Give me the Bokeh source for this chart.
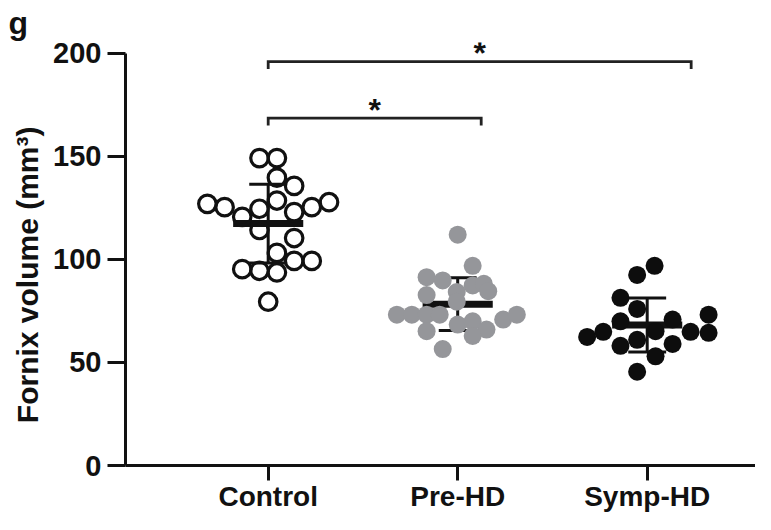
import numpy as np
from bokeh.plotting import figure
from bokeh.models import Range1d, FixedTicker, Title
from bokeh.embed import file_html
from bokeh.resources import INLINE
from bokeh.core.properties import value

# ---------------- data ----------------
groups = ["Control", "Pre-HD", "Symp-HD"]
group_x = [1, 2, 3]

control_vals = [149.2, 149.2, 139.7, 135.7, 127.0, 125.4, 120.7, 124.6, 128.6, 123.0,
                125.4, 127.8, 114.3, 110.4, 103.2, 99.3, 99.3, 95.3, 94.5, 93.7, 79.5]
control_swarm = [-0.046, 0.046, 0.046, 0.137, -0.321, -0.230, -0.137, -0.046, 0.046, 0.137,
                 0.230, 0.321, -0.046, 0.137, 0.046, 0.137, 0.230, -0.137, -0.046, 0.046, 0.0]

prehd_vals = [112.0, 96.9, 91.4, 89.8, 87.4, 88.2, 84.6, 82.7, 84.2, 79.5, 73.2,
              73.2, 73.2, 73.2, 70.8, 73.2, 68.4, 70.0, 66.0, 65.2, 62.9, 56.5]
prehd_swarm = [0.0, 0.079, -0.164, -0.079, 0.079, 0.138, 0.161, -0.164, -0.005, -0.005, -0.321,
               -0.242, -0.164, -0.095, 0.240, 0.312, 0.0, 0.079, 0.152, -0.164, 0.079, -0.079]

symphd_vals = [96.9, 92.5, 81.4, 76.0, 70.0, 70.8, 73.2, 62.4, 64.9, 65.2, 64.9,
               64.4, 61.0, 58.1, 59.0, 53.0, 45.5]
symphd_swarm = [0.039, -0.053, -0.141, -0.053, -0.141, 0.134, 0.324, -0.317, -0.232, 0.044, 0.229,
                0.324, -0.053, -0.141, 0.134, 0.044, -0.053]

y_ticks = [0, 50, 100, 150, 200]

# significance brackets: (start x, end x, height)
bracket_start = [1.0, 1.0]
bracket_end = [2.124, 3.232]
bracket_y = [168.6, 196.0]
bracket_label = ["*", "*"]

# ---------------- figure ----------------
FONT = "Liberation Sans"
INK = "#111111"
p = figure(width=755, height=514, output_backend="svg", toolbar_location=None,
           x_range=Range1d(0.247, 3.5715), y_range=Range1d(0, 205.3),
           min_border_left=125, min_border_right=0, min_border_top=0, min_border_bottom=0)
p.background_fill_color = "white"
p.border_fill_color = "white"
p.outline_line_color = None
p.grid.visible = False

# panel letter as a left-aligned title
p.title = Title(text="g", align="left", offset=-117, standoff=4,
                text_font=FONT, text_font_style="bold", text_font_size="32px",
                text_color=INK)

# axes
p.xaxis.ticker = FixedTicker(ticks=group_x)
p.xaxis.major_label_overrides = {x: g for x, g in zip(group_x, groups)}
p.yaxis.ticker = FixedTicker(ticks=y_ticks)
p.yaxis.bounds = (0, 200)
for ax in (p.xaxis, p.yaxis):
    ax.axis_line_width = 3
    ax.axis_line_color = INK
    ax.major_tick_line_width = 3
    ax.major_tick_line_color = INK
    ax.major_tick_in = 0
    ax.minor_tick_line_color = None
    ax.major_label_text_font = FONT
    ax.major_label_text_font_style = "bold"
    ax.major_label_text_color = INK
p.xaxis.major_label_text_font_size = "28px"
p.yaxis.major_label_text_font_size = "29px"
p.xaxis.major_tick_out = 15
p.yaxis.major_tick_out = 18
p.xaxis.major_label_standoff = 0
p.yaxis.major_label_standoff = 6
# trailing no-break spaces shift the rotated title toward the axis centre, as in the original
p.yaxis.axis_label = "Fornix volume (mm³)" + "\u00a0" * 5
p.yaxis.axis_label_text_font = FONT
p.yaxis.axis_label_text_font_style = "bold"
p.yaxis.axis_label_text_font_size = "30px"
p.yaxis.axis_label_text_color = INK
p.yaxis.axis_label_standoff = 6

# ---------------- mean ± SD bars ----------------
all_vals = [control_vals, prehd_vals, symphd_vals]
means = [float(np.mean(v)) for v in all_vals]
sds = [float(np.std(v, ddof=1)) for v in all_vals]
lo = [m - s for m, s in zip(means, sds)]
hi = [m + s for m, s in zip(means, sds)]
cap_half = 0.1
mean_half = 0.185
p.segment(x0=group_x, y0=lo, x1=group_x, y1=hi, line_width=3, line_color=INK)
p.segment(x0=[x - cap_half for x in group_x], y0=hi, x1=[x + cap_half for x in group_x], y1=hi,
          line_width=3, line_color=INK)
p.segment(x0=[x - cap_half for x in group_x], y0=lo, x1=[x + cap_half for x in group_x], y1=lo,
          line_width=3, line_color=INK)
p.segment(x0=[x - mean_half for x in group_x], y0=means, x1=[x + mean_half for x in group_x], y1=means,
          line_width=7, line_color=INK)

# ---------------- points ----------------
p.scatter(x=[group_x[0] + o for o in control_swarm], y=control_vals, size=17.5,
          fill_color=None, line_color=INK, line_width=3.2)
p.scatter(x=[group_x[1] + o for o in prehd_swarm], y=prehd_vals, size=18,
          fill_color="#95969a", line_color=None)
p.scatter(x=[group_x[2] + o for o in symphd_swarm], y=symphd_vals, size=18,
          fill_color="#0d0d0d", line_color=None)

# ---------------- significance brackets ----------------
drop = 3.6
for xs, xe, yb in zip(bracket_start, bracket_end, bracket_y):
    p.line(x=[xs, xs, xe, xe], y=[yb - drop, yb, yb, yb - drop], line_width=2.8,
           line_color="#222222", line_join="miter")
p.text(x=[(a + b) / 2 for a, b in zip(bracket_start, bracket_end)],
       y=[yb + 4.0 for yb in bracket_y], text=bracket_label,
       text_font=value(FONT), text_font_style="bold", text_font_size="32px",
       text_align="center", text_baseline="alphabetic", text_color=INK)

open("out.html", "w").write(file_html(p, INLINE))
